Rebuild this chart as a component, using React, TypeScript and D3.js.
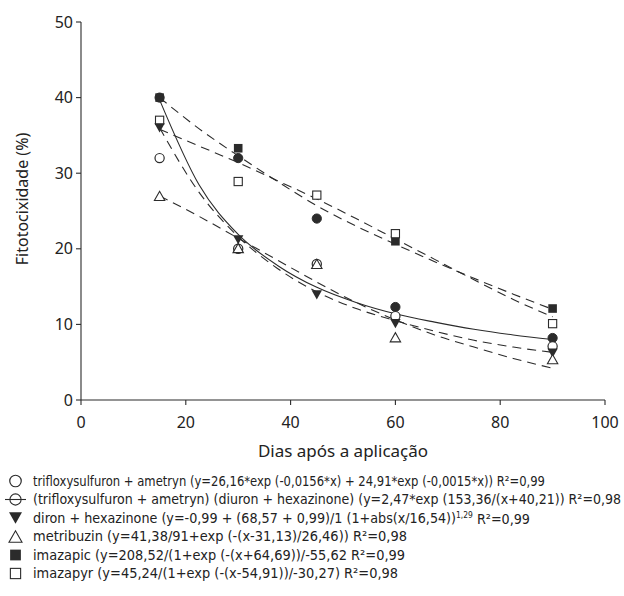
import React from 'react';
import * as d3 from 'd3';

// observed points (days after application)
const days = [15, 30, 45, 60, 90];
const trifloxAmetryn = [32, 20, 18, 11.1, 7.1];
const trifloxDiuron = [40, 32, 24, 12.3, 8.2];
const dironHexa = [36, 21.2, 13.9, 10.1, 6.2];
const metribuzin = [27, 20.1, 18, 8.3, 5.4];
const imazapic = [40, 33.3, null, 21, 12.1];
const imazapyr = [37, 28.9, 27.1, 22, 10.1];

// fitted curves
const fitDays = [15, 22.5, 30, 37.5, 45, 52.5, 60, 67.5, 75, 82.5, 90];
const fitTrifloxDiuron = [39.7, 28.5, 21.9, 17.8, 14.9, 12.9, 11.4, 10.3, 9.35, 8.6, 8.0];
const fitDiron = [36, 27.5, 21.6, 17.4, 14.3, 12.1, 10.5, 9.1, 7.9, 7.0, 6.3];
const fitMetribuzin = [27, 24.3, 21.4, 18.5, 15.6, 12.9, 10.6, 8.6, 7.0, 5.5, 4.2];
const fitImazapic = [40, 35.9, 32.3, 28.9, 25.7, 23, 20.6, 18.3, 16.1, 14, 12];
const fitImazapyr = [35.8, 33.6, 31.4, 29, 26.6, 24, 21.3, 18.6, 15.9, 13.3, 11];

const xTicks = [0, 20, 40, 60, 80, 100];
const yTicks = [0, 10, 20, 30, 40, 50];

const legendLabels = [
  'trifloxysulfuron + ametryn (y=26,16*exp (-0,0156*x) + 24,91*exp (-0,0015*x)) R²=0,99',
  '(trifloxysulfuron + ametryn) (diuron + hexazinone) (y=2,47*exp (153,36/(x+40,21)) R²=0,98',
  'diron + hexazinone (y=-0,99 + (68,57 + 0,99)/1 (1+abs(x/16,54))',
  'metribuzin (y=41,38/91+exp (-(x-31,13)/26,46)) R²=0,98',
  'imazapic (y=208,52/(1+exp (-(x+64,69))/-55,62 R²=0,99',
  'imazapyr (y=45,24/(1+exp (-(x-54,91))/-30,27) R²=0,98',
];
// right edge of each legend line in the reference
const legendEnds = [545, 621, 530, 407, 405, 398];

const INK = '#2b2b2b';
const tickFont = '"Noto Sans", "Open Sans", sans-serif';
const legendFont = '"Liberation Sans Narrow", "DejaVu Sans Condensed", sans-serif';

function Marker({ kind, x, y, s = 1 }: { kind: string; x: number; y: number; s?: number }) {
  const r = 4.6 * s;
  if (kind === 'openCircle')
    return <circle cx={x} cy={y} r={r} fill="#fff" stroke={INK} strokeWidth={1.2} />;
  if (kind === 'filledCircle')
    return <circle cx={x} cy={y} r={r} fill={INK} stroke={INK} strokeWidth={1} />;
  if (kind === 'filledSquare') {
    const h = 4.3 * s;
    return <rect x={x - h} y={y - h} width={2 * h} height={2 * h} fill={INK} />;
  }
  if (kind === 'openSquare') {
    const h = 4.1 * s;
    return <rect x={x - h} y={y - h} width={2 * h} height={2 * h} fill="#fff" stroke={INK} strokeWidth={1.1} />;
  }
  const w = 5.2 * s;
  const t = 4.6 * s;
  if (kind === 'filledTriDown')
    return <path d={`M${x - w},${y - t}L${x + w},${y - t}L${x},${y + t}Z`} fill={INK} />;
  return (
    <path d={`M${x - w},${y + t}L${x + w},${y + t}L${x},${y - t}Z`} fill="#fff" stroke={INK} strokeWidth={1.1} />
  );
}

export default function App() {
  const x = d3.scaleLinear().domain([0, 100]).range([81, 605]);
  const y = d3.scaleLinear().domain([0, 50]).range([400, 22]);

  const line = d3
    .line<number>()
    .x((_, i) => x(fitDays[i]))
    .y((d) => y(d))
    .curve(d3.curveMonotoneX);

  const fits = [
    { vals: fitImazapic, dash: '9,6' },
    { vals: fitImazapyr, dash: '9,6' },
    { vals: fitDiron, dash: '9,6' },
    { vals: fitMetribuzin, dash: '9,6' },
    { vals: fitTrifloxDiuron, dash: null },
  ];

  const series = [
    { kind: 'filledSquare', vals: imazapic },
    { kind: 'openSquare', vals: imazapyr },
    { kind: 'filledCircle', vals: trifloxDiuron },
    { kind: 'openCircle', vals: trifloxAmetryn },
    { kind: 'filledTriDown', vals: dironHexa },
    { kind: 'openTriUp', vals: metribuzin },
  ];

  const legendKinds = ['openCircle', 'crossCircle', 'filledTriDown', 'openTriUp', 'filledSquare', 'openSquare'];
  const legendY = d3.range(6).map((i) => 481 + i * 18.5);
  const textX = 33;

  return (
    <svg width={624} height={596} style={{ position: 'absolute', left: 0, top: 0, background: '#fff' }}>
      <rect width={624} height={596} fill="#fff" />
      {/* axes */}
      <g stroke={INK} strokeWidth={1.1} fill="none">
        <line x1={x(0)} x2={x(0)} y1={y(50)} y2={y(0)} />
        <line x1={x(0)} x2={x(100)} y1={y(0)} y2={y(0)} />
        {yTicks.map((t) => (
          <line key={'yt' + t} x1={x(0) - 5} x2={x(0)} y1={y(t)} y2={y(t)} />
        ))}
        {xTicks.map((t) => (
          <line key={'xt' + t} x1={x(t)} x2={x(t)} y1={y(0)} y2={y(0) + 5} />
        ))}
      </g>
      <g fontFamily={tickFont} fontSize={16} fill="#222">
        {yTicks.map((t) => (
          <text key={'yl' + t} x={x(0) - 8} y={y(t)} dy="0.35em" textAnchor="end">
            {t}
          </text>
        ))}
        {xTicks.map((t) => (
          <text key={'xl' + t} x={x(t)} y={y(0) + 28} textAnchor="middle">
            {t}
          </text>
        ))}
        <text x={343} y={457} textAnchor="middle" fontSize={17}>
          Dias após a aplicação
        </text>
        <text transform="translate(28,199) rotate(-90)" textAnchor="middle" fontSize={16}>
          Fitotocixidade (%)
        </text>
      </g>

      {/* fitted curves */}
      {fits.map((f, i) => (
        <path
          key={'fit' + i}
          d={line(f.vals) || ''}
          fill="none"
          stroke={INK}
          strokeWidth={1.1}
          strokeDasharray={f.dash || undefined}
        />
      ))}

      {/* observed points */}
      {series.map((s) =>
        s.vals.map((v, i) =>
          v == null ? null : <Marker key={s.kind + i} kind={s.kind} x={x(days[i])} y={y(v)} />
        )
      )}

      {/* legend */}
      <g fontFamily={legendFont} fontSize={13.5} fill="#222">
        {legendKinds.map((k, i) => {
          const cy = legendY[i];
          return (
            <g key={'lg' + i}>
              {k === 'crossCircle' ? (
                <g>
                  <line x1={5} x2={26} y1={cy} y2={cy} stroke={INK} strokeWidth={1.1} />
                  <circle cx={15.5} cy={cy} r={5.6} fill="none" stroke={INK} strokeWidth={1.1} />
                </g>
              ) : (
                <Marker kind={k} x={15.5} y={cy} s={1.25} />
              )}
              <text
                x={textX}
                y={cy}
                dy="0.35em"
                textLength={legendEnds[i] - textX}
                lengthAdjust="spacingAndGlyphs"
              >
                {legendLabels[i]}
                {i === 2 ? (
                  <>
                    <tspan fontSize={8} dy="-0.6em">1,29</tspan>
                    <tspan dy="0.45em"> R²=0,99</tspan>
                  </>
                ) : null}
              </text>
            </g>
          );
        })}
      </g>
    </svg>
  );
}
